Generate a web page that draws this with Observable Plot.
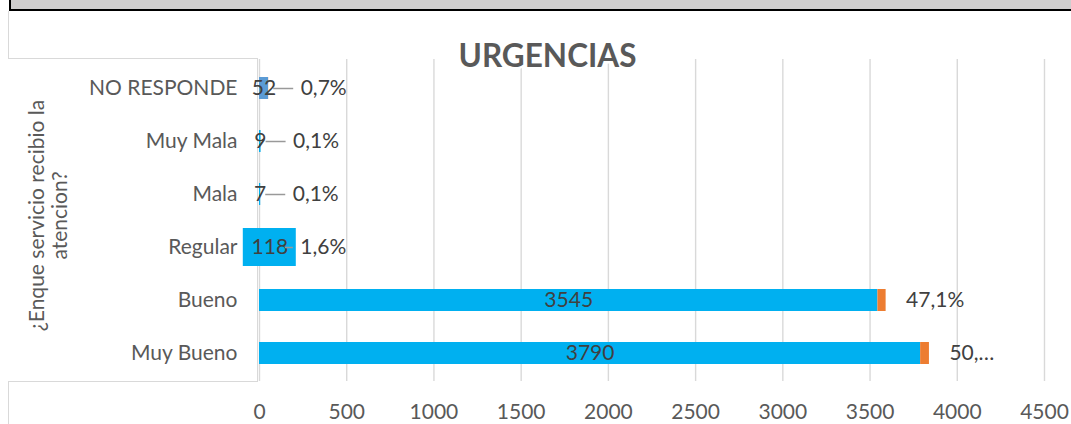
<!DOCTYPE html>
<html>
<head>
<meta charset="utf-8">
<script src="https://cdn.jsdelivr.net/npm/d3@7"></script>
<script src="https://cdn.jsdelivr.net/npm/@observablehq/plot@0.6"></script>
<style>
  html, body { margin: 0; padding: 0; background: #fff; }
  #wrap { position: relative; width: 1071px; height: 424px; overflow: hidden; font-family: Lato, "Open Sans", sans-serif; }
  .band { position: absolute; left: 11px; top: 0; width: 1060px; height: 9px; background: #d0cece; }
  .bandL { position: absolute; left: 9px; top: 0; width: 2px; height: 11px; background: #000; }
  .bandB { position: absolute; left: 9px; top: 9px; width: 1062px; height: 2px; background: #000; }
  .outerL { position: absolute; left: 7.5px; top: 11px; width: 1.5px; height: 413px; background: #d9d9d9; }
  .catbox { position: absolute; left: 8px; top: 58px; width: 249px; height: 322px; border: 1.5px solid #d9d9d9; border-left: none; box-sizing: content-box; background: #fff; }
  #chart { position: absolute; left: 0; top: 0; }
</style>
</head>
<body>
<div id="wrap">
  <div class="band"></div>
  <div class="bandL"></div>
  <div class="bandB"></div>
  <div class="outerL"></div>
  <div class="catbox"></div>
  <div id="chart"></div>
</div>
<script>
// ---- data ----
const categories = ["NO RESPONDE", "Muy Mala", "Mala", "Regular", "Bueno", "Muy Bueno"];
const counts = [52, 9, 7, 118, 3545, 3790];
const percents = [0.7, 0.1, 0.1, 1.6, 47.1, 50.4];
const percentLabels = ["0,7%", "0,1%", "0,1%", "1,6%", "47,1%", "50,…"];
const xTicks = [0, 500, 1000, 1500, 2000, 2500, 3000, 3500, 4000, 4500];
const chartTitle = "URGENCIAS";
const yTitle = "¿Enque servicio recibio la\natencion?";

// ---- layout ----
const W = 1071, H = 424;
const mL = 259, mR = 27, mT = 59, mB = 43;
const pxPerUnit = (W - mL - mR) / (xTicks[xTicks.length - 1] - xTicks[0]);
const FS = 21;

const rows = categories.map((c, i) => ({
  cat: c, count: counts[i], pct: percents[i], pctLabel: percentLabels[i],
  total: counts[i] + percents[i]
}));
const blueFill = d => d.cat === "NO RESPONDE" ? "#5b9bd5" : "#00b0f0";
const small = rows.filter(d => d.count < 500);
const boxed = rows.filter(d => d.cat === "Regular");
const tiny = rows.filter(d => d.total < 100);
const rest = rows.filter(d => d.total >= 100);
const pctDx = d => d.total < 100 ? 32 : 20;

const plot = Plot.plot({
  width: W, height: H,
  marginLeft: mL, marginRight: mR, marginTop: mT, marginBottom: mB,
  style: { background: "transparent", fontFamily: "Lato, 'Open Sans', sans-serif", fontSize: FS + "px", color: "#595959" },
  x: { domain: [0, 4500], ticks: xTicks, tickSize: 0, tickPadding: 23, label: null, tickFormat: d => String(d) },
  y: { domain: categories, paddingInner: 0.59, paddingOuter: 0.295, tickSize: 0, tickPadding: 22, label: null },
  marks: [
    Plot.ruleX(xTicks, { x: d => d, stroke: "#d9d9d9", strokeWidth: 1.4 }),
    Plot.barX(rows, { y: "cat", x1: 0, x2: "count", fill: blueFill }),
    Plot.barX(rows, { y: "cat", x1: "count", x2: "total", fill: "#ed7d31" }),
    // label box for Regular
    Plot.rect(boxed, {
      y: "cat",
      x1: d => d.count / 2 - 26.5 / pxPerUnit,
      x2: d => d.count / 2 + 26.5 / pxPerUnit,
      insetTop: -8, insetBottom: -8, fill: "#00b0f0"
    }),
    // value labels
    Plot.text(rows, { y: "cat", x: d => d.count / 2, text: d => String(d.count), fill: "#404040", fontSize: FS }),
    // leader lines
    Plot.ruleY(small, {
      y: "cat",
      x1: d => d.total + 5 / pxPerUnit,
      x2: d => d.total + (pctDx(d) - 7) / pxPerUnit,
      stroke: "#999999", strokeWidth: 1.5
    }),
    // percent labels
    Plot.text(tiny, { y: "cat", x: "total", dx: 32, text: "pctLabel", textAnchor: "start", fill: "#404040", fontSize: FS }),
    Plot.text(rest, { y: "cat", x: "total", dx: 20, text: "pctLabel", textAnchor: "start", fill: "#404040", fontSize: FS }),
    // title
    Plot.text([chartTitle], { frameAnchor: "top", text: d => d, dx: 547 - (mL + (W - mR)) / 2, dy: -3,
      lineAnchor: "middle", textAnchor: "middle",
      fontSize: 31.5, fontWeight: "bold", fill: "#595959", stroke: "white", strokeWidth: 5, paintOrder: "stroke" }),
    // y axis title
    Plot.text([yTitle], { frameAnchor: "left", text: d => d, rotate: -90, dx: 48 - mL, dy: -5,
      textAnchor: "middle", lineAnchor: "middle",
      fontSize: FS, lineHeight: 1.1, fill: "#595959" })
  ]
});
document.getElementById("chart").appendChild(plot);
</script>
</body>
</html>
